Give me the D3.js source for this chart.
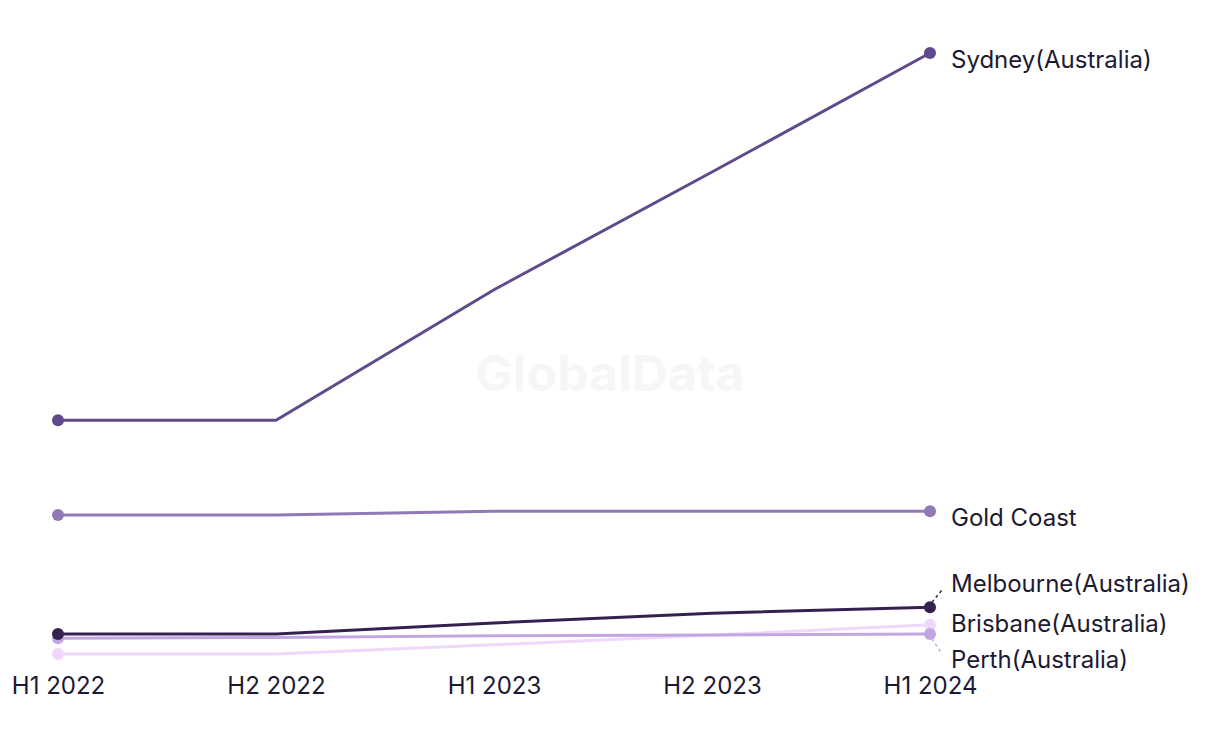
<!DOCTYPE html>
<html><head><meta charset="utf-8">
<script src="https://cdn.jsdelivr.net/npm/d3@7"></script>
<style>body{margin:0;background:#fff;}svg{display:block;}</style>
</head><body>
<svg id="chart" width="1220" height="744"></svg>
<script>
const periods = ["H1 2022", "H2 2022", "H1 2023", "H2 2023", "H1 2024"];
const sydney = [39.5, 39.5, 61.0, 80.4, 100.0];
const goldCoast = [23.9, 23.9, 24.5, 24.5, 24.5];
const melbourne = [4.3, 4.3, 6.1, 7.7, 8.7];
const brisbane = [1.0, 1.0, 2.5, 4.1, 5.8];
const perth = [3.6, 3.7, 4.0, 4.1, 4.3];
const seriesNames = ["Sydney(Australia)", "Gold Coast", "Melbourne(Australia)", "Brisbane(Australia)", "Perth(Australia)"];
const seriesColors = ["#5f4b8b", "#9179b5", "#35214f", "#efd8fb", "#c1a6e2"];
const seriesValues = [sydney, goldCoast, melbourne, brisbane, perth];
const labelY = [60, 518, 584, 624, 660];

const svg = d3.select("#chart");
const x = d3.scalePoint().domain(periods).range([58, 930]);
const y = d3.scaleLinear().domain([0, 100]).range([660, 53]);
const font = "Inter, 'Liberation Sans', sans-serif";

svg.append("text").attr("x", 610).attr("y", 391).attr("text-anchor", "middle")
  .attr("font-family", font).attr("font-weight", 700)
  .attr("font-size", 50).attr("fill", "#f6f6f6").text("GlobalData");

const xAxis = svg.append("g").attr("transform", "translate(0,677)")
  .call(d3.axisBottom(x).tickSize(0).tickPadding(0));
xAxis.select(".domain").remove();
xAxis.selectAll("text").attr("font-family", font)
  .attr("font-size", 24).attr("fill", "#1c1a33").attr("dy", "0.71em");

const line = d3.line().x((d, i) => x(periods[i])).y(d => y(d));
const order = [3, 4, 2, 1, 0];
order.forEach(k => {
  svg.append("path").datum(seriesValues[k]).attr("d", line)
    .attr("fill", "none").attr("stroke", seriesColors[k]).attr("stroke-width", 3);
});
order.forEach(k => {
  const vals = seriesValues[k];
  [0, vals.length - 1].forEach(i => {
    svg.append("circle").attr("cx", x(periods[i])).attr("cy", y(vals[i])).attr("r", 6)
      .attr("fill", seriesColors[k]);
  });
});

seriesNames.forEach((name, k) => {
  const vals = seriesValues[k];
  const px = x(periods[periods.length - 1]);
  const py = y(vals[vals.length - 1]);
  if (Math.abs(labelY[k] - py) > 10) {
    svg.append("line").attr("x1", px + 2).attr("y1", py + (labelY[k] > py ? 5 : -5))
      .attr("x2", px + 12).attr("y2", labelY[k] + (labelY[k] > py ? -6 : 6))
      .attr("stroke", seriesColors[k]).attr("stroke-width", 1.5).attr("stroke-dasharray", "3,3");
  }
  svg.append("text").attr("x", 951).attr("y", labelY[k]).attr("dy", "0.35em")
    .attr("font-family", font).attr("font-size", 24)
    .attr("fill", "#1c1a33").text(name);
});
</script>
</body></html>
